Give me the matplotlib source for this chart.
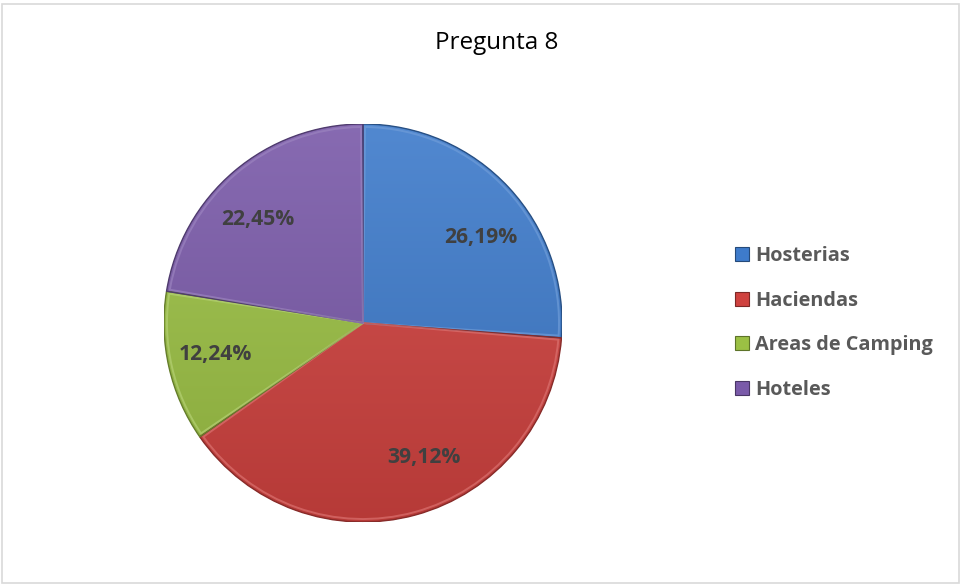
import numpy as np
import matplotlib
matplotlib.use("Agg")
import matplotlib.pyplot as plt
from matplotlib.colors import to_rgb
from matplotlib.patches import Rectangle, Wedge

plt.rcParams['font.family'] = ['Open Sans', 'DejaVu Sans']

title = "Pregunta 8"
categories = ["Hosterias", "Haciendas", "Areas de Camping", "Hoteles"]
values = [26.19, 39.12, 12.24, 22.45]
labels = ["26,19%", "39,12%", "12,24%", "22,45%"]
colors = ["#3E7BCB", "#CF423F", "#9BC044", "#7A5AA9"]

# angular nudges (degrees) for the value labels, relative to each slice's middle
label_shift = [-7, 9, -1, 5]
label_radius = [0.73, 0.74, 0.76, 0.74]

W, H, DPI = 962, 586, 100
fig = plt.figure(figsize=(W / DPI, H / DPI), dpi=DPI)
fig.patch.set_facecolor("white")

# outer frame
fig.add_artist(Rectangle((2 / W, 3 / H), (W - 5) / W, (H - 7) / H,
                         transform=fig.transFigure, fill=False,
                         edgecolor="#D9D9D9", linewidth=1.2))

cx, cy, r = 363, 323, 199
ax = fig.add_axes([(cx - r) / W, (H - cy - r) / H, 2 * r / W, 2 * r / H])

wedges, _ = ax.pie(values, colors=colors, startangle=90, counterclock=False,
                   radius=1.0, wedgeprops=dict(edgecolor="none", linewidth=0))
ax.set_aspect("equal")
ax.axis("off")


def shade(c, f):
    c = np.array(to_rgb(c))
    if f >= 0:
        return c + (1 - c) * f
    return c * (1 + f)


# vertical light-to-dark gradient inside every slice
yy = np.linspace(1, -1, 300)[:, None] * np.ones((1, 300))
for w, c in zip(wedges, colors):
    t = (yy + 1) / 2  # 1 at top, 0 at bottom
    top, bot = shade(c, 0.10), shade(c, -0.12)
    img = bot[None, None, :] + (top - bot)[None, None, :] * t[:, :, None]
    im = ax.imshow(img, extent=(-1, 1, -1, 1), origin="upper",
                   interpolation="bilinear", zorder=1)
    im.set_clip_path(w)
    # edge shadow and inner highlight
    ax.add_patch(Wedge(w.center, w.r, w.theta1, w.theta2, fill=False,
                       edgecolor=shade(c, -0.35), linewidth=1.0, zorder=2))
    ax.add_patch(Wedge(w.center, w.r * 0.985, w.theta1 + 0.6, w.theta2 - 0.6,
                       fill=False, edgecolor=shade(c, 0.25),
                       linewidth=1.4, alpha=0.7, zorder=2))
ax.set_xlim(-1, 1)
ax.set_ylim(-1, 1)

# value labels
for w, lab, d, rr in zip(wedges, labels, label_shift, label_radius):
    ang = np.deg2rad((w.theta1 + w.theta2) / 2 + d)
    ax.text(rr * np.cos(ang), rr * np.sin(ang), lab, ha="center", va="center",
            fontsize=15.2, fontweight="bold", color="#404040", zorder=5)

fig.text(497 / W, 1 - 43 / H, title, ha="center", va="center",
         fontsize=17.5, color="black")

handles = [Rectangle((0, 0), 1, 1, facecolor=c, edgecolor=shade(c, -0.4),
                     linewidth=0.8) for c in colors]
leg = fig.legend(handles, categories, loc="center left",
                 bbox_to_anchor=(727 / W, 1 - 323 / H), frameon=False,
                 prop=dict(size=14.3, weight="bold"), labelcolor="#595959",
                 handlelength=0.7, handleheight=0.7, handletextpad=0.3,
                 labelspacing=1.24, borderaxespad=0)

fig.savefig("out.png", dpi=DPI, facecolor="white")
